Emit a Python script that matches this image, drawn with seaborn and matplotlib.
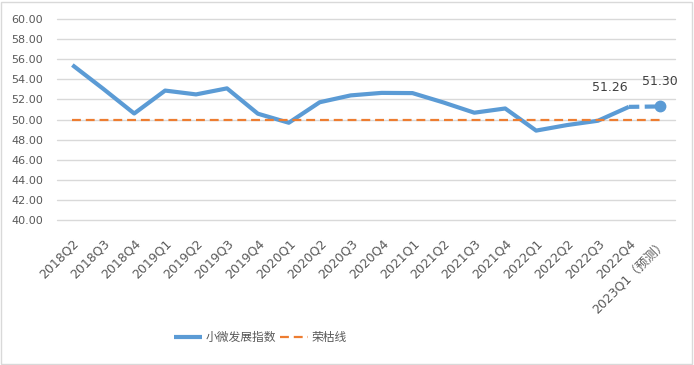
import matplotlib
matplotlib.use("Agg")
import matplotlib.pyplot as plt
import pandas as pd
import seaborn as sns
from matplotlib.patches import Rectangle

quarters = [
    "2018Q2", "2018Q3", "2018Q4", "2019Q1", "2019Q2", "2019Q3", "2019Q4",
    "2020Q1", "2020Q2", "2020Q3", "2020Q4", "2021Q1", "2021Q2", "2021Q3",
    "2021Q4", "2022Q1", "2022Q2", "2022Q3", "2022Q4", "2023Q1（预测）",
]
index_values = [
    55.42, 53.05, 50.60, 52.88, 52.50, 53.10, 50.58, 49.68, 51.72, 52.40,
    52.65, 52.63, 51.70, 50.68, 51.10, 48.90, 49.45, 49.88, 51.26,
]
forecast_value = 51.30
boom_line = [50.0] * len(quarters)
y_ticks = [40, 42, 44, 46, 48, 50, 52, 54, 56, 58, 60]

BLUE = "#5B9BD5"
ORANGE = "#ED7D31"
GRID = "#D9D9D9"
TEXT = "#595959"

sns.set_theme(style="white")
plt.rcParams["font.family"] = ["DejaVu Sans", "Noto Sans CJK SC"]

fig = plt.figure(figsize=(6.94, 3.65), dpi=100)
ax = fig.add_axes([0.082, 0.397, 0.891, 0.551])

pos = list(range(len(quarters)))
df_index = pd.DataFrame({"x": pos[:len(index_values)], "y": index_values})
df_boom = pd.DataFrame({"x": pos, "y": boom_line})

sns.lineplot(data=df_index, x="x", y="y", ax=ax, color=BLUE, linewidth=3,
             label="小微发展指数", solid_capstyle="butt")
sns.lineplot(data=df_boom, x="x", y="y", ax=ax, color=ORANGE, linewidth=1.6,
             linestyle=(0, (4, 2.2)), label="荣枯线")

# forecast segment: dashed with a dot at the end
ax.plot([pos[-2], pos[-1]], [index_values[-1], forecast_value], color=BLUE,
        linewidth=3, linestyle=(0, (2.5, 1.3)))
ax.plot([pos[-1]], [forecast_value], marker="o", markersize=7.5, color=BLUE)

ax.annotate(f"{index_values[-1]:.2f}", (pos[-2], index_values[-1]),
            xytext=(-14, 9.5), textcoords="offset points", ha="center", va="bottom",
            fontsize=9, color="#404040")
ax.annotate(f"{forecast_value:.2f}", (pos[-1], forecast_value),
            xytext=(0, 13), textcoords="offset points", ha="center", va="bottom",
            fontsize=9, color="#404040")

ax.set_xlim(-0.5, len(quarters) - 0.5)
ax.set_ylim(40, 60)
ax.set_yticks(y_ticks)
ax.set_yticklabels([f"{v:.2f}" for v in y_ticks])
ax.set_xticks(pos)
ax.set_xticklabels(quarters, rotation=45, ha="right", rotation_mode="anchor")
ax.tick_params(axis="both", colors=TEXT, length=0)
ax.tick_params(axis="y", labelsize=8, pad=10)
ax.tick_params(axis="x", labelsize=9, pad=12)
ax.grid(axis="y", color=GRID, linewidth=1)
for gl in ax.get_ygridlines():
    gl.set_clip_on(False)
ax.set_axisbelow(True)
for side in ["top", "right", "left", "bottom"]:
    ax.spines[side].set_visible(False)
ax.set_xlabel("")
ax.set_ylabel("")

ax.get_legend().remove()
handles, labels = ax.get_legend_handles_labels()
fig.legend(handles[:2], labels[:2], loc="center", bbox_to_anchor=(0.375, 0.075),
           ncol=2, frameon=False, fontsize=8.5, handlelength=2.4,
           columnspacing=0.3, handletextpad=0.3, labelcolor=TEXT)

fig.patches.append(Rectangle((0.002, 0.003), 0.995, 0.992, transform=fig.transFigure,
                             fill=False, edgecolor=GRID, linewidth=1))

fig.savefig("out.png", dpi=100)
